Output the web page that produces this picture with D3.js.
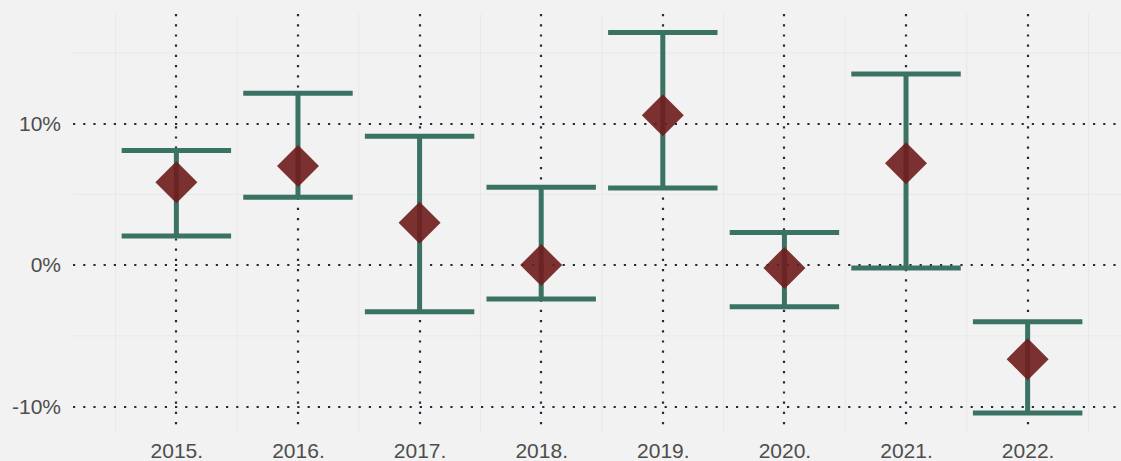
<!DOCTYPE html>
<html>
<head>
<meta charset="utf-8">
<script src="https://cdn.jsdelivr.net/npm/d3@7"></script>
<style>
  body { margin: 0; background: #f2f2f2; }
  svg { display: block; }
  .tick text { font-family: "Liberation Sans", Arial, sans-serif; font-size: 21px; fill: #4d4d4d; }
</style>
</head>
<body>
<div id="chart"></div>
<script>
var years = ['2015.', '2016.', '2017.', '2018.', '2019.', '2020.', '2021.', '2022.'];
var estimate = [5.85, 7.0, 3.0, 0.0, 10.6, -0.2, 7.2, -6.65];
var lower = [2.05, 4.8, -3.3, -2.4, 5.45, -2.95, -0.2, -10.45];
var upper = [8.1, 12.15, 9.1, 5.5, 16.45, 2.3, 13.5, -4.0];
var yTicks = [-10, 0, 10];
var yMinor = [-5, 5, 15];

var width = 1121, height = 461;
var margin = { top: 14, right: -10, bottom: 29, left: 73 };
var w = width - margin.left - margin.right;
var h = height - margin.top - margin.bottom;

var svg = d3.select('#chart').append('svg')
	.attr('width', width)
	.attr('height', height)
	.style('background', '#f2f2f2');

var g = svg.append('g')
	.attr('transform', 'translate(' + margin.left + ',' + margin.top + ')');

var x = d3.scalePoint()
	.domain(years)
	.range([0, w])
	.padding(0.85);
var step = x.step();

var y = d3.scaleLinear()
	.domain([-11.8, 17.75])
	.range([h, 0]);

// minor grid
g.selectAll('.minor-x')
	.data(years.concat(['end']))
	.enter().append('line')
	.attr('x1', function(d, i) { return x(years[0]) + (i - 0.5) * step; })
	.attr('x2', function(d, i) { return x(years[0]) + (i - 0.5) * step; })
	.attr('y1', 0).attr('y2', h)
	.attr('stroke', '#e8e8e8').attr('stroke-width', 1);
g.selectAll('.minor-y')
	.data(yMinor)
	.enter().append('line')
	.attr('x1', 0).attr('x2', w)
	.attr('y1', function(d) { return y(d); })
	.attr('y2', function(d) { return y(d); })
	.attr('stroke', '#e8e8e8').attr('stroke-width', 1);

// dotted major grid
g.selectAll('.major-y')
	.data(yTicks)
	.enter().append('line')
	.attr('x1', 0).attr('x2', w)
	.attr('y1', function(d) { return Math.round(y(d)); })
	.attr('y2', function(d) { return Math.round(y(d)); })
	.attr('stroke', '#232b3a').attr('stroke-width', 2.2)
	.attr('stroke-dasharray', '2.2 8');
g.selectAll('.major-x')
	.data(years)
	.enter().append('line')
	.attr('x1', function(d) { return Math.round(x(d)); })
	.attr('x2', function(d) { return Math.round(x(d)); })
	.attr('y1', 0).attr('y2', h)
	.attr('stroke', '#232b3a').attr('stroke-width', 2.2)
	.attr('stroke-dasharray', '2.2 8');

// axes
var xAxis = g.append('g')
	.attr('transform', 'translate(0,' + h + ')')
	.call(d3.axisBottom(x).tickSize(0).tickPadding(11));
var yAxis = g.append('g')
	.call(d3.axisLeft(y).tickValues(yTicks).tickSize(0).tickPadding(12)
		.tickFormat(function(d) { return d + '%'; }));
svg.selectAll('.domain').remove();

// error bars
var data = years.map(function(d, i) {
	return { year: d, est: estimate[i], lo: lower[i], hi: upper[i] };
});
var capHalf = step * 0.45;
var barColor = '#3a7264';
var bars = g.selectAll('.bar').data(data).enter().append('g');
bars.append('line')
	.attr('x1', function(d) { return x(d.year); })
	.attr('x2', function(d) { return x(d.year); })
	.attr('y1', function(d) { return y(d.lo); })
	.attr('y2', function(d) { return y(d.hi); })
	.attr('stroke', barColor).attr('stroke-width', 5);
bars.append('line')
	.attr('x1', function(d) { return x(d.year) - capHalf; })
	.attr('x2', function(d) { return x(d.year) + capHalf; })
	.attr('y1', function(d) { return y(d.hi); })
	.attr('y2', function(d) { return y(d.hi); })
	.attr('stroke', barColor).attr('stroke-width', 5);
bars.append('line')
	.attr('x1', function(d) { return x(d.year) - capHalf; })
	.attr('x2', function(d) { return x(d.year) + capHalf; })
	.attr('y1', function(d) { return y(d.lo); })
	.attr('y2', function(d) { return y(d.lo); })
	.attr('stroke', barColor).attr('stroke-width', 5);

// diamonds
var r = 21;
g.selectAll('.pt').data(data).enter().append('path')
	.attr('d', function(d) {
		var cx = x(d.year), cy = y(d.est);
		return 'M' + cx + ',' + (cy - r) + 'L' + (cx + r) + ',' + cy +
			'L' + cx + ',' + (cy + r) + 'L' + (cx - r) + ',' + cy + 'Z';
	})
	.attr('fill', '#6f1c1c')
	.attr('fill-opacity', 0.9);
</script>
</body>
</html>
